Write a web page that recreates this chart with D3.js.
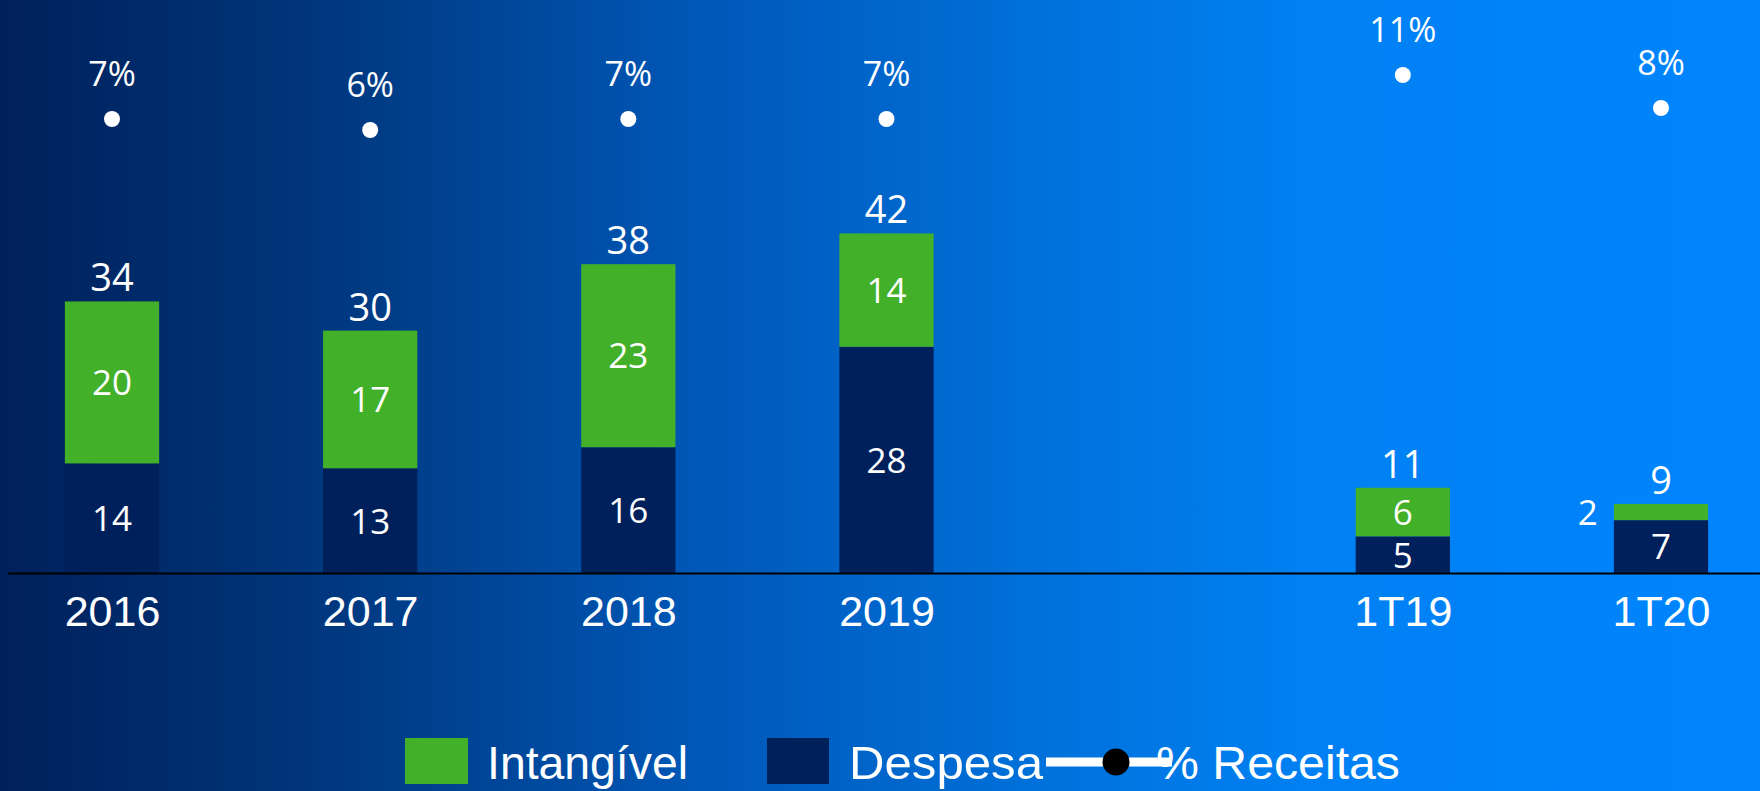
<!DOCTYPE html>
<html>
<head>
<meta charset="utf-8">
<script src="https://cdn.jsdelivr.net/npm/d3@7"></script>
<style>
  html, body { margin: 0; padding: 0; background: #003070; }
  svg { display: block; }
</style>
</head>
<body>
<svg id="chart" width="1760" height="791"></svg>
<script>
// ---- data ----
const categories = ["2016", "2017", "2018", "2019", "1T19", "1T20"];
const despesa    = [13.6, 13, 15.6, 28, 4.6, 6.6];
const intangivel = [20.0, 17, 22.6, 14, 6.0, 2];
const receitasPct = [7, 6, 7, 7, 11, 8];
const legendLabels = ["Intangível", "Despesa", "% Receitas"];

// ---- setup ----
const W = 1760, H = 791;
const svg = d3.select("#chart");
const colGreen = "#43B02A", colNavy = "#00205B";
const numFont = "'Open Sans', 'Noto Sans', sans-serif";
const sansFont = "'Liberation Sans', Arial, sans-serif";
const fmt = d3.format(".0f");

// background gradient
const defs = svg.append("defs");
const grad = defs.append("linearGradient").attr("id", "bg").attr("x1", 0).attr("x2", 1).attr("y1", 0).attr("y2", 0);
[[0, "#00205A"], [0.17, "#00357A"], [0.4, "#0058B8"], [0.6, "#0072DC"], [0.74, "#0080F2"], [1, "#0085FF"]]
  .forEach(([o, c]) => grad.append("stop").attr("offset", o).attr("stop-color", c));
svg.append("rect").attr("width", W).attr("height", H).attr("fill", "url(#bg)");

// scales
const xDomain = [...categories.slice(0, 4), "__gap__", ...categories.slice(4)];
const x = d3.scalePoint().domain(xDomain).range([112, 1661]);
const barW = x.step() * 0.365;
const y = d3.scaleLinear().domain([0, 50]).range([573.6, 168.6]);
const yPct = d3.scaleLinear().domain([0, 15]).range([196, 31]);

const rows = categories.map((c, i) => ({
  cat: c, d: despesa[i], g: intangivel[i], p: receitasPct[i], total: despesa[i] + intangivel[i]
}));

// bars
const gBars = svg.append("g");
gBars.selectAll(".navy").data(rows).join("rect")
  .attr("x", d => x(d.cat) - barW / 2).attr("width", barW)
  .attr("y", d => y(d.d)).attr("height", d => y(0) - y(d.d))
  .attr("fill", colNavy);
gBars.selectAll(".green").data(rows).join("rect")
  .attr("x", d => x(d.cat) - barW / 2).attr("width", barW)
  .attr("y", d => y(d.d + d.g)).attr("height", d => y(d.d) - y(d.d + d.g))
  .attr("fill", colGreen);

// axis baseline
svg.append("line").attr("x1", 8).attr("x2", W).attr("y1", y(0)).attr("y2", y(0))
  .attr("stroke", "#000").attr("stroke-width", 2);

// x axis labels
const axis = svg.append("g").attr("transform", `translate(0,${y(0)})`)
  .call(d3.axisBottom(x).tickValues(categories).tickSize(0).tickPadding(22));
axis.select(".domain").remove();
axis.selectAll("text").attr("fill", "#fff").style("font-family", sansFont).style("font-size", "43px");

// segment labels
const labels = svg.append("g").attr("fill", "#fff").style("font-family", numFont);
rows.forEach(d => {
  labels.append("text")
    .attr("x", x(d.cat)).attr("y", (y(0) + y(d.d)) / 2).attr("dy", "0.36em")
    .attr("text-anchor", "middle").style("font-size", "35px").text(fmt(d.d));
  const gTop = y(d.d + d.g), gBot = y(d.d);
  if (gBot - gTop > 30) {
    labels.append("text")
      .attr("x", x(d.cat)).attr("y", (gTop + gBot) / 2).attr("dy", "0.36em")
      .attr("text-anchor", "middle").style("font-size", "35px").text(fmt(d.g));
  } else {
    labels.append("text")
      .attr("x", x(d.cat) - barW / 2 - 16).attr("y", (gTop + gBot) / 2).attr("dy", "0.36em")
      .attr("text-anchor", "end").style("font-size", "35px").text(fmt(d.g));
  }
  // totals
  labels.append("text")
    .attr("x", x(d.cat)).attr("y", gTop - 10)
    .attr("text-anchor", "middle").style("font-size", "38px").text(fmt(d.total));
  // percentage dots
  labels.append("circle").attr("cx", x(d.cat)).attr("cy", yPct(d.p)).attr("r", 8).attr("fill", "#fff");
  labels.append("text")
    .attr("x", x(d.cat)).attr("y", yPct(d.p) - 33)
    .attr("text-anchor", "middle").style("font-size", "34px").text(d.p + "%");
});

// legend
const leg = svg.append("g").style("font-family", sansFont).attr("fill", "#fff");
leg.append("rect").attr("x", 405).attr("y", 738).attr("width", 63).attr("height", 46).attr("fill", colGreen);
leg.append("rect").attr("x", 767).attr("y", 738).attr("width", 62).attr("height", 46).attr("fill", colNavy);
leg.append("line").attr("x1", 1046).attr("x2", 1172).attr("y1", 762).attr("y2", 762)
  .attr("stroke", "#fff").attr("stroke-width", 9);
leg.append("circle").attr("cx", 1116).attr("cy", 762).attr("r", 13.5).attr("fill", "#000");
const legText = [[487, 201], [849, 194], [1156, 244]];
legendLabels.forEach((t, i) => {
  leg.append("text").attr("x", legText[i][0]).attr("y", 779)
    .attr("textLength", legText[i][1]).attr("lengthAdjust", "spacingAndGlyphs")
    .style("font-size", "47px").text(t);
});
</script>
</body>
</html>
